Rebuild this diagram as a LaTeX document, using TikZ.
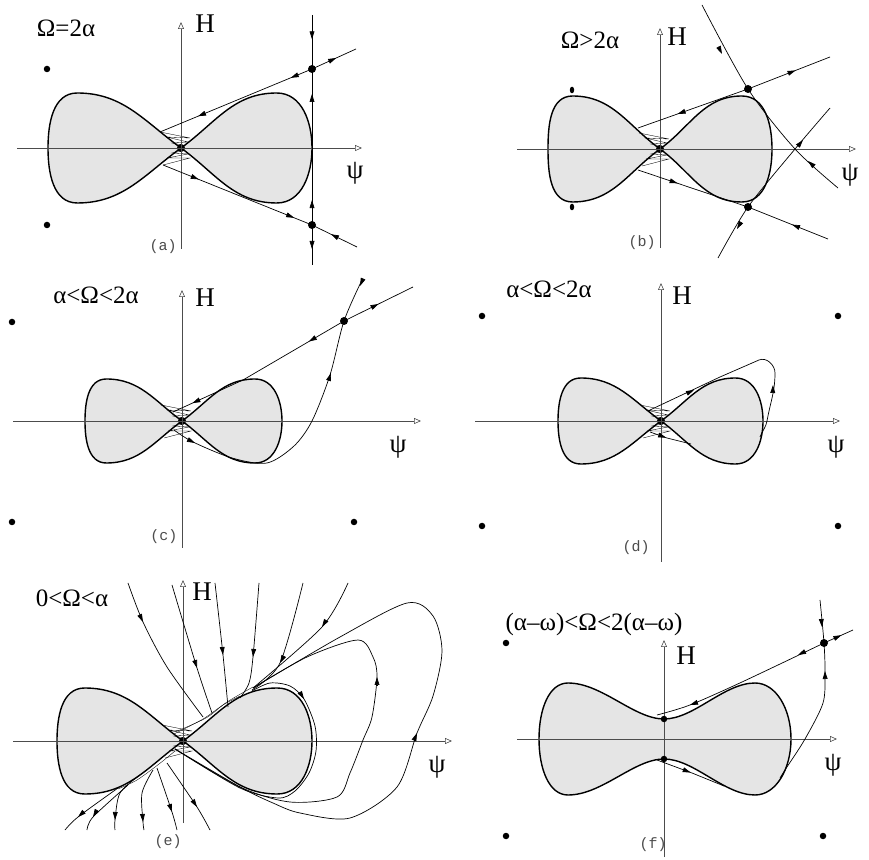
\documentclass[tikz,border=0pt]{standalone}
\usepackage{fontspec}
\setmainfont{Liberation Serif}
\setmonofont{Liberation Mono}
\usetikzlibrary{arrows.meta, decorations.markings}
\newcommand\axfont{\fontsize{27}{30}\selectfont}
\newcommand\condfont{\fontsize{25}{28}\selectfont}
\newcommand\tagfont{\ttfamily\fontsize{15}{17}\selectfont}
% an arrow tip on a curve: point, direction of the flow
\newcommand\flowtip[2]{\draw[traj, tipend] (#1) ++({#2+180}:8) -- (#1);}
\tikzset{
  % axes of every portrait
  axis/.style={draw=black!70, line width=0.6pt, -{Triangle[open,length=7pt,width=6pt]}},
  % the grey region and the trajectories
  lobe/.style={fill=black!10, draw=black, line width=1.4pt, line join=round},
  traj/.style={draw=black, line width=0.7pt},
  hairline/.style={draw=black, line width=0.35pt},
  tipend/.style={-{Triangle[length=8pt,width=4.8pt]}},
  % arrow tips put on a straight trajectory
  fwd/.style={postaction={decorate, decoration={markings,
      mark=at position #1 with {\arrow{Triangle[length=8pt,width=4.8pt]}}}}},
  fixpt/.style={circle, fill=black, inner sep=0pt, minimum size=6.5pt},
  saddle/.style={circle, fill=black, inner sep=0pt, minimum size=8pt},
  % texts
  axlabel/.style={font=\axfont, inner sep=0pt},
  cond/.style={font=\condfont, inner sep=0pt},
  tag/.style={font=\tagfont, text=black!70, inner sep=0pt},
  % two lobes meeting at the origin: left width, right width, height, slope angle
  pics/bowtie/.style n args={4}{code={
    \pgfmathsetmacro\bwR{0.73*#2}
    \pgfmathsetmacro\bwL{-0.78*#1}
    \pgfmathsetmacro\angB{180-#4}
    \pgfmathsetmacro\angC{180+#4}
    \filldraw[lobe] (0,0) to[out=#4,in=180] (\bwR,#3) to[out=0,in=90] (#2,0)
      to[out=-90,in=0] (\bwR,-#3) to[out=180,in=-#4] (0,0)
      to[out=\angB,in=0] (\bwL,#3) to[out=180,in=90] (-#1,0)
      to[out=-90,in=180] (\bwL,-#3) to[out=0,in=\angC] cycle;
  }},
  % the trajectories winding into the origin
  pics/knot/.style={code={
    \draw[hairline] (-21,16) -- (9,10) -- (-15,11) -- (7,6) -- (-9,5) -- (4,2.5) -- (0,0);
    \draw[hairline] (-18,-17) -- (9,-10) -- (-14,-10) -- (7,-6) -- (-9,-5) -- (4,-2.5) -- (0,0);
    \fill (0,0) circle (4);
  }},
}

\begin{document}
\begin{tikzpicture}[x=1pt, y=1pt]
\useasboundingbox (0,0) rectangle (869,859);

% ------------------------------- (a) ---------------------------------------
\begin{scope}[shift={(181,711)}]
  \pic {bowtie={133}{131}{55}{36}};
  \pic {knot};
  \draw[axis] (-164,0) -- (181,0);
  \draw[axis] (0,-101) -- (0,126);
  \node[axlabel] (Ha) at (24,124) {H};
  \node[axlabel] (psia) at (174,-25) {ψ};
  \node[cond] (conda) at (-115,120) {Ω=2α};
  \node[tag] (taga) at (-18,-99) {(a)};
  \node[fixpt] (a1) at (-134,79) {};
  \node[fixpt] (a2) at (-134,-77) {};
  \node[saddle] (a3) at (131,79) {};
  \node[saddle] (a4) at (131,-77) {};
  \coordinate (a3up) at (131,133);
  \coordinate (a4dn) at (131,-117);
  \coordinate (a3out) at (175,99);
  \coordinate (a4out) at (176,-99);
  \draw[traj, fwd=0.45] (a3up) -- (a3.center);
  \draw[traj, fwd=0.16, fwd=0.84] (a4.center) -- (a3.center);
  \draw[traj, fwd=0.6] (a4.center) -- (a4dn);
  \draw[traj, fwd=0.55] (a3.center) -- (a3out);
  \draw[traj, fwd=0.14, fwd=0.75] (a3.center) -- (-21,16);
  \draw[traj, fwd=0.24, fwd=0.88] (-18,-17) -- (a4.center);
  \draw[traj, fwd=0.58] (a4out) -- (a4.center);
\end{scope}

% ------------------------------- (b) ---------------------------------------
\begin{scope}[shift={(660,710)}]
  \pic {bowtie={112}{112}{53}{36}};
  \pic {knot};
  \draw[axis] (-143,0) -- (196,0);
  \draw[axis] (0,-99) -- (0,121);
  \node[axlabel] (Hb) at (17,112) {H};
  \node[axlabel] (psib) at (190,-26) {ψ};
  \node[cond] (condb) at (-70,109) {Ω>2α};
  \node[tag] (tagb) at (-18,-94) {(b)};
  \fill (-88,59) ellipse (2.2 and 3.3);
  \fill (-88,-58) ellipse (2.2 and 3.3);
  \node[saddle] (b1) at (88,60) {};
  \node[saddle] (b2) at (88,-58) {};
  \draw[traj] plot[smooth] coordinates {(42,144) (88,60) (135,0) (178,-39)};
  \flowtip{62,95}{-64}
  \flowtip{148,-12}{138}
  \draw[traj] plot[smooth] coordinates {(58,-109) (88,-58) (135,0) (170,41)};
  \flowtip{77,-80}{-120}
  \flowtip{143,9}{50}
  \draw[traj, fwd=0.58] (b1.center) -- (170,92);
  \draw[traj, fwd=0.64] (b1.center) -- (-22,21);
  \draw[traj, fwd=0.36] (-22,-21) -- (b2.center);
  \draw[traj, fwd=0.45] (168,-90) -- (b2.center);
\end{scope}

% ------------------------------- (c) ---------------------------------------
\begin{scope}[shift={(182,438)}]
  \pic {bowtie={97}{100}{42}{36}};
  \pic {knot};
  \draw[axis] (-169,0) -- (239,0);
  \draw[axis] (0,-127) -- (0,131);
  \node[axlabel] (Hc) at (23,123) {H};
  \node[axlabel] (psic) at (216,-26) {ψ};
  \node[cond] (condc) at (-86,126) {α<Ω<2α};
  \node[tag] (tagc) at (-18,-116) {(c)};
  \node[fixpt] (c1) at (-170,99) {};
  \node[fixpt] (c2) at (-170,-101) {};
  \node[fixpt] (c3) at (172,-101) {};
  \node[saddle] (c4) at (162,100) {};
  \draw[traj, fwd=0.5] (c4.center) -- (231,134);
  \draw[traj, fwd=0.21, fwd=0.89] (c4.center) -- (61,41) -- (-9,9);
  \draw[traj] plot[smooth] coordinates {(180,141) (162,100) (148,46) (130,0) (112,-25)
      (85,-42) (50,-37) (11,-21) (-8,-9)};
  \flowtip{178,135}{-113}
  \flowtip{149,48}{72}
  \flowtip{13,-22}{-26}
\end{scope}

% ------------------------------- (d) ---------------------------------------
\begin{scope}[shift={(661,438)}]
  \pic {bowtie={103}{102}{43}{36}};
  \pic {knot};
  \draw[axis] (-186,0) -- (179,0);
  \draw[axis] (0,-141) -- (0,138);
  \node[axlabel] (Hd) at (21,125) {H};
  \node[axlabel] (psid) at (175,-26) {ψ};
  \node[cond] (condd) at (-112,132) {α<Ω<2α};
  \node[tag] (tagd) at (-25,-127) {(d)};
  \node[fixpt] (d1) at (-179,105) {};
  \node[fixpt] (d2) at (177,105) {};
  \node[fixpt] (d3) at (-179,-105) {};
  \node[fixpt] (d4) at (177,-105) {};
  \draw[traj] (-11,11) -- (59,44) -- (98,61)
      to[out=23,in=90] (114,48) to[out=-90,in=80] (106,0) to[out=-100,in=70] (99,-16);
  \flowtip{33,31}{25}
  \flowtip{112,36}{88}
  \draw[traj, fwd=0.4] (-11,-11) -- (6,-17) -- (30,-23);
\end{scope}

% ------------------------------- (e) ---------------------------------------
\begin{scope}[shift={(183,118)}]
  \pic {bowtie={126}{129}{53}{36}};
  \pic {knot};
  \draw[axis] (-170,0) -- (269,0);
  \draw[axis] (0,-82) -- (0,161);
  \node[axlabel] (He) at (19,149) {H};
  \node[axlabel] (psie) at (254,-26) {ψ};
  \node[cond] (conde) at (-111,143) {0<Ω<α};
  \node[tag] (tage) at (-15,-101) {(e)};
  % flow falling onto the upper edge
  \draw[traj] plot[smooth] coordinates {(-55,158) (-40,119) (-16,74) (20,24)};
  \flowtip{-40,119}{-65}
  \draw[traj] plot[smooth] coordinates {(-11,156) (14,73) (29,28)};
  \flowtip{14,73}{-73}
  \draw[traj] plot[smooth] coordinates {(32,158) (40,86) (45,34)};
  \flowtip{40,86}{-84}
  \draw[traj] plot[smooth] coordinates {(76,158) (70,84) (66,58) (57,43)};
  \flowtip{70,84}{-95}
  \draw[traj] plot[smooth] coordinates {(120,158) (97,78) (69,51)};
  \flowtip{97,78}{-118}
  \draw[traj] plot[smooth] coordinates {(165,158) (139,114) (70,53)};
  \flowtip{139,114}{-122}
  \draw[hairline] plot[smooth] coordinates {(70,54) (44,39) (23,23) (-8,9)};
  \draw[hairline] plot[smooth] coordinates {(57,45) (40,36) (20,22) (-9,7)};
  % loops round the right lobe
  \draw[traj] plot[smooth] coordinates {(70,53) (157,104) (224,138) (250,125)
      (259,90) (250,45) (234,8) (214,-46) (167,-77) (117,-72) (90,-62) (57,-46) (-8,-8)};
  \flowtip{234,8}{68}
  \draw[traj] plot[smooth] coordinates {(70,53) (124,84) (175,101) (190,84)
      (194,64) (189,24) (180,1) (167,-32) (154,-56) (107,-61) (57,-46) (-8,-8)};
  \flowtip{194,64}{90}
  \draw[traj] plot[smooth] coordinates {(69,50) (87,58) (107,55) (121,42)
      (132,15) (133,-10) (126,-32) (112,-50) (95,-57) (57,-47) (-8,-8)};
  \flowtip{121,42}{-58}
  % flow leaving the lower edge
  \draw[hairline] plot[smooth] coordinates {(-65,-48) (-46,-39) (-24,-23) (-8,-10)};
  \draw[traj] plot[smooth] coordinates {(-65,-47) (-105,-76) (-118,-89)};
  \flowtip{-105,-76}{-138}
  \draw[traj] plot[smooth] coordinates {(-55,-44) (-90,-76) (-96,-89)};
  \flowtip{-90,-76}{-120}
  \draw[traj] plot[smooth] coordinates {(-43,-34) (-63,-52) (-68,-79) (-68,-89)};
  \flowtip{-68,-79}{-92}
  \draw[traj] plot[smooth] coordinates {(-30,-29) (-41,-52) (-40,-81) (-39,-89)};
  \flowtip{-40,-81}{-86}
  \draw[traj] plot[smooth] coordinates {(-26,-27) (-11,-71) (-6,-89)};
  \flowtip{-11,-71}{-72}
  \draw[traj] plot[smooth] coordinates {(-16,-22) (14,-66) (27,-89)};
  \flowtip{14,-66}{-57}
\end{scope}

% ------------------------------- (f) ---------------------------------------
\begin{scope}[shift={(664,120)}]
  \filldraw[lobe] (0,20) .. controls (30,20) and (60,56) .. (91,56)
    .. controls (112,56) and (127,30) .. (127,0)
    .. controls (127,-30) and (112,-56) .. (91,-56)
    .. controls (60,-56) and (30,-20) .. (0,-20)
    .. controls (-30,-20) and (-62,-56) .. (-96,-56)
    .. controls (-115,-56) and (-125,-30) .. (-125,0)
    .. controls (-125,30) and (-115,56) .. (-96,56)
    .. controls (-62,56) and (-30,20) .. cycle;
  \draw[axis] (-147,0) -- (173,0);
  \draw[axis] (0,-118) -- (0,99);
  \node[axlabel] (Hf) at (22,83) {H};
  \node[axlabel] (psif) at (169,-26) {ψ};
  \node[cond] (condf) at (-70,115) {(α–ω)<Ω<2(α–ω)};
  \node[tag] (tagf) at (-11,-106) {(f)};
  \node[fixpt] (f0) at (-158,96) {};
  \node[fixpt] (f4) at (-158,-97) {};
  \node[fixpt] (f5) at (159,-97) {};
  \node[saddle] (f1) at (160,96) {};
  \node[fixpt] (f2) at (0,20) {};
  \node[fixpt] (f3) at (0,-20) {};
  \draw[traj, fwd=0.6] (f1.center) -- (189,109);
  \draw[traj] plot[smooth] coordinates {(160,96) (78,57) (26,34) (-7,24)};
  \flowtip{134,84}{-154}
  \flowtip{26,34}{-160}
  \draw[traj] plot[smooth] coordinates {(156,139) (160,96) (161,66) (159,36) (141,0)
      (121,-31) (116,-39)};
  \flowtip{158,112}{-85}
  \flowtip{161,68}{91}
  \draw[traj, fwd=0.5] (-7,-21) -- (28,-34) -- (60,-47);
\end{scope}

\end{tikzpicture}
\end{document}
